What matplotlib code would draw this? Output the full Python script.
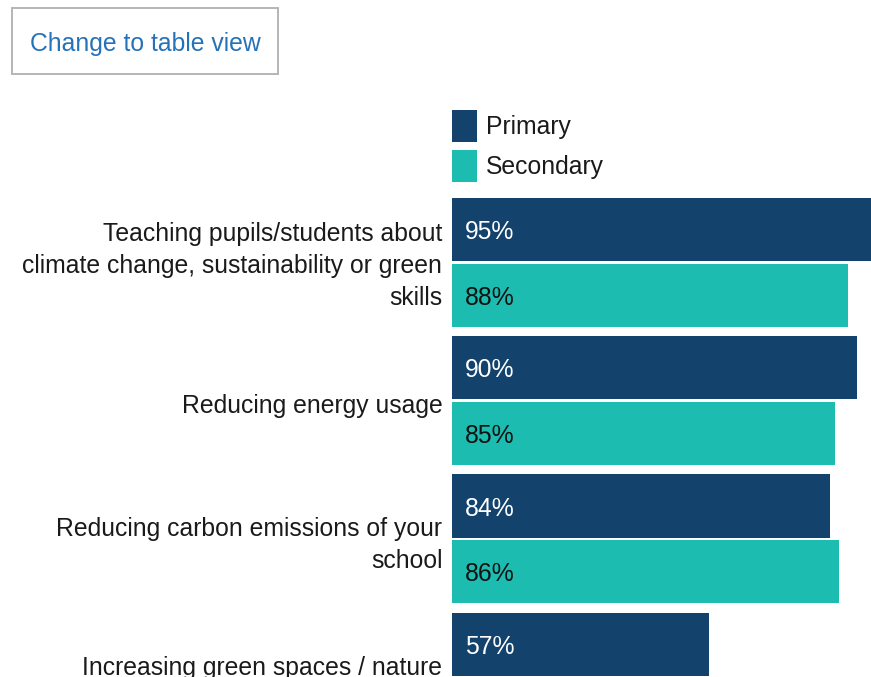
import numpy as np
import matplotlib
matplotlib.use("Agg")
import matplotlib.pyplot as plt
from matplotlib.patches import Rectangle
from matplotlib.transforms import ScaledTranslation

plt.rcParams['font.family'] = ['Liberation Sans', 'DejaVu Sans']

categories = [
    "Teaching pupils/students about\nclimate change, sustainability or green\nskills",
    "Reducing energy usage",
    "Reducing carbon emissions of your\nschool",
    "Increasing green spaces / nature\n",
]
series_names = ["Primary", "Secondary"]
primary = [95, 90, 84, 57]
secondary = [88, 85, 86, 62]

navy = "#13436d"
teal = "#1cbcb0"
fs = 17.8

W, H = 871, 677
fig = plt.figure(figsize=(W / 100, H / 100), dpi=100)

# plot area: starts at x=452px, runs off the right and bottom edges
ax_top = 190
ax = fig.add_axes([452 / W, 0, 1 - 452 / W, (H - ax_top) / H])

pitch = 139.2  # px per category
off = 33 / pitch
bh = 63.7 / pitch
y = np.arange(len(categories))

b1 = ax.barh(y - off, primary, height=bh, color=navy, label=series_names[0])
b2 = ax.barh(y + off, secondary, height=bh, color=teal, label=series_names[1])

for bars, vals, col in [(b1, primary, "white"), (b2, secondary, "#111111")]:
    for r, v in zip(bars, vals):
        ax.text(13 / 4.5, r.get_y() + r.get_height() / 2, f"{v}%",
                color=col, fontsize=fs, va="center_baseline", ha="left")

ax.set_xlim(0, (W - 452) / 4.5)
top = -(262.9 - ax_top) / pitch
ax.set_ylim(top + (H - ax_top) / pitch, top)

ax.set_yticks(y)
ax.set_yticklabels(categories, fontsize=fs, color="#1a1a1a", linespacing=1.42)
ax.tick_params(axis="y", length=0, pad=7)
ax.set_xticks([])
for s in ax.spines.values():
    s.set_visible(False)
# small vertical nudges (px, + is down) for the wrapped labels
nudge = [-3, 3, 0, 0]
for lab, dy in zip(ax.get_yticklabels(), nudge):
    lab.set_transform(lab.get_transform() +
                      ScaledTranslation(0, -dy / 100, fig.dpi_scale_trans))

# legend top-left at (452, 110) px
leg = ax.legend(loc="upper left", bbox_to_anchor=(452 / W, 1 - 110 / H),
                bbox_transform=fig.transFigure, frameon=False, fontsize=fs,
                borderpad=0, borderaxespad=0, handlelength=25 / 24.7,
                handleheight=1.616, labelspacing=0.32, handletextpad=0.36)
for t in leg.get_texts():
    t.set_color("#1a1a1a")

# "Change to table view" button
fig.patches.append(Rectangle((11.5 / W, 1 - 74 / H), 266.5 / W, 66 / H,
                             transform=fig.transFigure, fill=False,
                             edgecolor="#b3b5b8", linewidth=1.4))
fig.text(30 / W, 1 - 41.2 / H, "Change to table view", color="#2672b8",
         fontsize=fs, va="center_baseline", ha="left")

fig.savefig("out.png", dpi=100)
